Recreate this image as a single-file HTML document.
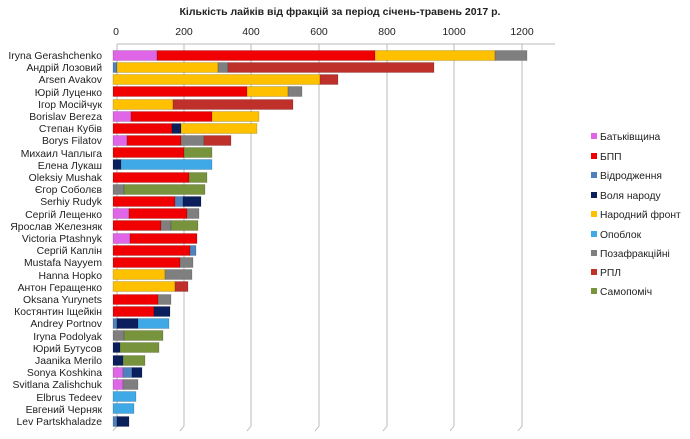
<!DOCTYPE html>
<html><head><meta charset="utf-8"><style>
body{margin:0;background:#fff}
svg text{font-family:"Liberation Sans","DejaVu Sans",sans-serif;fill:#222}
</style></head><body>
<svg width="690" height="434" viewBox="0 0 690 434" xmlns="http://www.w3.org/2000/svg">
<rect width="690" height="434" fill="#fff"/>
<text x="340" y="15" font-size="10.5" font-weight="bold" text-anchor="middle">Кількість лайків від фракцій за період січень-травень 2017 р.</text>
<g font-size="10.5" text-anchor="middle">
<text x="116" y="35">0</text><text x="184" y="35">200</text><text x="251" y="35">400</text><text x="319" y="35">600</text><text x="387" y="35">800</text><text x="454" y="35">1000</text><text x="522" y="35">1200</text>
</g>
<g stroke="#bbb" stroke-width="1" fill="none">
<path d="M117 44 L555 44"/>
<path d="M117 44 V426 L113 431"/>
<path d="M184 44 V426 L180 431"/><path d="M251 44 V426 L247 431"/><path d="M319 44 V426 L315 431"/><path d="M387 44 V426 L383 431"/><path d="M454 44 V426 L450 431"/><path d="M522 44 V426 L518 431"/>
</g>
<g font-size="10.4" text-anchor="end">
<text x="102" y="59">Iryna Gerashchenko</text>
<text x="102" y="71">Андрій Лозовий</text>
<text x="102" y="83">Arsen  Avakov</text>
<text x="102" y="96">Юрій Луценко</text>
<text x="102" y="108">Ігор Мосійчук</text>
<text x="102" y="120">Borislav Bereza</text>
<text x="102" y="132">Степан Кубів</text>
<text x="102" y="144">Borys Filatov</text>
<text x="102" y="157">Михаил Чаплыга</text>
<text x="102" y="169">Елена Лукаш</text>
<text x="102" y="181">Oleksiy Mushak</text>
<text x="102" y="193">Єгор Соболєв</text>
<text x="102" y="205">Serhiy Rudyk</text>
<text x="102" y="218">Сергій Лещенко</text>
<text x="102" y="230">Ярослав Железняк</text>
<text x="102" y="242">Victoria Ptashnyk</text>
<text x="102" y="254">Сергій Каплін</text>
<text x="102" y="266">Mustafa Nayyem</text>
<text x="102" y="279">Hanna Hopko</text>
<text x="102" y="291">Антон Геращенко</text>
<text x="102" y="303">Oksana Yurynets</text>
<text x="102" y="315">Костянтин Іщейкін</text>
<text x="102" y="327">Andrey Portnov</text>
<text x="102" y="340">Iryna Podolyak</text>
<text x="102" y="352">Юрий Бутусов</text>
<text x="102" y="364">Jaanika Merilo</text>
<text x="102" y="376">Sonya Koshkina</text>
<text x="102" y="388">Svitlana Zalishchuk</text>
<text x="102" y="401">Elbrus  Tedeev</text>
<text x="102" y="413">Евгений Черняк</text>
<text x="102" y="425">Lev Partskhaladze</text>
</g>
<g stroke="rgba(0,0,0,0.25)" stroke-width="0.6">
<g transform="translate(0,50.5)"><rect x="113" width="44" height="10" fill="#e066e8"/><rect x="157" width="218" height="10" fill="#f00000"/><rect x="375" width="120" height="10" fill="#ffc000"/><rect x="495" width="32" height="10" fill="#7f7f7f"/></g>
<g transform="translate(0,62.5)"><rect x="113" width="4" height="10" fill="#4f81bd"/><rect x="117" width="101" height="10" fill="#ffc000"/><rect x="218" width="10" height="10" fill="#7f7f7f"/><rect x="228" width="206" height="10" fill="#c0302b"/></g>
<g transform="translate(0,74.5)"><rect x="113" width="207" height="10" fill="#ffc000"/><rect x="320" width="18" height="10" fill="#c0302b"/></g>
<g transform="translate(0,86.5)"><rect x="113" width="134" height="10" fill="#f00000"/><rect x="247" width="41" height="10" fill="#ffc000"/><rect x="288" width="14" height="10" fill="#7f7f7f"/></g>
<g transform="translate(0,99.5)"><rect x="113" width="60" height="10" fill="#ffc000"/><rect x="173" width="120" height="10" fill="#c0302b"/></g>
<g transform="translate(0,111.5)"><rect x="113" width="18" height="10" fill="#e066e8"/><rect x="131" width="81" height="10" fill="#f00000"/><rect x="212" width="47" height="10" fill="#ffc000"/></g>
<g transform="translate(0,123.5)"><rect x="113" width="59" height="10" fill="#f00000"/><rect x="172" width="9" height="10" fill="#0a1f5c"/><rect x="181" width="76" height="10" fill="#ffc000"/></g>
<g transform="translate(0,135.5)"><rect x="113" width="14" height="10" fill="#e066e8"/><rect x="127" width="54" height="10" fill="#f00000"/><rect x="181" width="23" height="10" fill="#7f7f7f"/><rect x="204" width="27" height="10" fill="#c0302b"/></g>
<g transform="translate(0,147.5)"><rect x="113" width="71" height="10" fill="#f00000"/><rect x="184" width="28" height="10" fill="#77933c"/></g>
<g transform="translate(0,159.5)"><rect x="113" width="8" height="10" fill="#0a1f5c"/><rect x="121" width="91" height="10" fill="#3fa9e8"/></g>
<g transform="translate(0,172.5)"><rect x="113" width="76" height="10" fill="#f00000"/><rect x="189" width="18" height="10" fill="#77933c"/></g>
<g transform="translate(0,184.5)"><rect x="113" width="11" height="10" fill="#7f7f7f"/><rect x="124" width="81" height="10" fill="#77933c"/></g>
<g transform="translate(0,196.5)"><rect x="113" width="62" height="10" fill="#f00000"/><rect x="175" width="8" height="10" fill="#4f81bd"/><rect x="183" width="18" height="10" fill="#0a1f5c"/></g>
<g transform="translate(0,208.5)"><rect x="113" width="16" height="10" fill="#e066e8"/><rect x="129" width="58" height="10" fill="#f00000"/><rect x="187" width="12" height="10" fill="#7f7f7f"/></g>
<g transform="translate(0,220.5)"><rect x="113" width="48" height="10" fill="#f00000"/><rect x="161" width="10" height="10" fill="#7f7f7f"/><rect x="171" width="27" height="10" fill="#77933c"/></g>
<g transform="translate(0,233.5)"><rect x="113" width="17" height="10" fill="#e066e8"/><rect x="130" width="67" height="10" fill="#f00000"/></g>
<g transform="translate(0,245.5)"><rect x="113" width="77" height="10" fill="#f00000"/><rect x="190" width="6" height="10" fill="#4f81bd"/></g>
<g transform="translate(0,257.5)"><rect x="113" width="67" height="10" fill="#f00000"/><rect x="180" width="13" height="10" fill="#7f7f7f"/></g>
<g transform="translate(0,269.5)"><rect x="113" width="52" height="10" fill="#ffc000"/><rect x="165" width="27" height="10" fill="#7f7f7f"/></g>
<g transform="translate(0,281.5)"><rect x="113" width="62" height="10" fill="#ffc000"/><rect x="175" width="13" height="10" fill="#c0302b"/></g>
<g transform="translate(0,294.5)"><rect x="113" width="45" height="10" fill="#f00000"/><rect x="158" width="13" height="10" fill="#7f7f7f"/></g>
<g transform="translate(0,306.5)"><rect x="113" width="41" height="10" fill="#f00000"/><rect x="154" width="16" height="10" fill="#0a1f5c"/></g>
<g transform="translate(0,318.5)"><rect x="113" width="4" height="10" fill="#4f81bd"/><rect x="117" width="21" height="10" fill="#0a1f5c"/><rect x="138" width="31" height="10" fill="#3fa9e8"/></g>
<g transform="translate(0,330.5)"><rect x="113" width="11" height="10" fill="#7f7f7f"/><rect x="124" width="39" height="10" fill="#77933c"/></g>
<g transform="translate(0,342.5)"><rect x="113" width="7" height="10" fill="#0a1f5c"/><rect x="120" width="39" height="10" fill="#77933c"/></g>
<g transform="translate(0,355.5)"><rect x="113" width="10" height="10" fill="#0a1f5c"/><rect x="123" width="22" height="10" fill="#77933c"/></g>
<g transform="translate(0,367.5)"><rect x="113" width="10" height="10" fill="#e066e8"/><rect x="123" width="9" height="10" fill="#4f81bd"/><rect x="132" width="10" height="10" fill="#0a1f5c"/></g>
<g transform="translate(0,379.5)"><rect x="113" width="10" height="10" fill="#e066e8"/><rect x="123" width="15" height="10" fill="#7f7f7f"/></g>
<g transform="translate(0,391.5)"><rect x="113" width="23" height="10" fill="#3fa9e8"/></g>
<g transform="translate(0,403.5)"><rect x="113" width="21" height="10" fill="#3fa9e8"/></g>
<g transform="translate(0,416.5)"><rect x="113" width="4" height="10" fill="#4f81bd"/><rect x="117" width="12" height="10" fill="#0a1f5c"/></g>
</g>
<g font-size="10.3">
<rect x="591" y="133" width="6" height="6" fill="#e066e8"/><text x="600" y="140">Батьківщина</text>
<rect x="591" y="153" width="6" height="6" fill="#f00000"/><text x="600" y="160">БПП</text>
<rect x="591" y="172" width="6" height="6" fill="#4f81bd"/><text x="600" y="179">Відродження</text>
<rect x="591" y="192" width="6" height="6" fill="#0a1f5c"/><text x="600" y="199">Воля народу</text>
<rect x="591" y="211" width="6" height="6" fill="#ffc000"/><text x="600" y="218">Народний фронт</text>
<rect x="591" y="231" width="6" height="6" fill="#3fa9e8"/><text x="600" y="238">Опоблок</text>
<rect x="591" y="250" width="6" height="6" fill="#7f7f7f"/><text x="600" y="257">Позафракційні</text>
<rect x="591" y="269" width="6" height="6" fill="#c0302b"/><text x="600" y="276">РПЛ</text>
<rect x="591" y="288" width="6" height="6" fill="#77933c"/><text x="600" y="295">Самопоміч</text>
</g>
</svg>
</body></html>
